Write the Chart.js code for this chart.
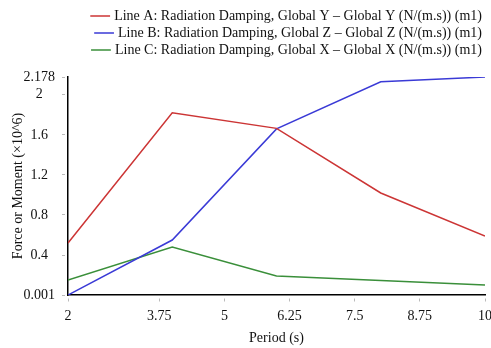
<!DOCTYPE html>
<html>
<head>
<meta charset="utf-8">
<script src="https://cdn.jsdelivr.net/npm/chart.js@4/dist/chart.umd.min.js"></script>
<style>
  html, body { margin: 0; padding: 0; background: #fff; }
  #wrap { width: 491px; height: 348px; }
</style>
</head>
<body>
<div id="wrap"><canvas id="chart" width="491" height="348"></canvas></div>
<script>
// values
const periods = [2, 4, 6, 8, 10];
const lineA = [0.52, 1.82, 1.665, 1.02, 0.59];
const lineB = [0.001, 0.55, 1.66, 2.13, 2.178];
const lineC = [0.15, 0.48, 0.19, 0.145, 0.10];

const seriesNames = [
    'Line A: Radiation Damping, Global Y \u2013 Global Y (N/(m.s)) (m1)',
    'Line B: Radiation Damping, Global Z \u2013 Global Z (N/(m.s)) (m1)',
    'Line C: Radiation Damping, Global X \u2013 Global X (N/(m.s)) (m1)'
];
const seriesColors = ['#cc3535', '#3a3ad6', '#3a8f3a'];

const xTicks = [2, 3.75, 5, 6.25, 7.5, 8.75, 10];
const xTickLabels = ['2', '3.75', '5', '6.25', '7.5', '8.75', '10'];
const yTicks = [0.001, 0.4, 0.8, 1.2, 1.6, 2, 2.178];
const yTickLabels = ['0.001', '0.4', '0.8', '1.2', '1.6', '2', '2.178'];

const serif = '"Liberation Serif", "DejaVu Serif", serif';

function toPoints(values) {
    return periods.map((p, i) => ({x: p, y: values[i]}));
}

const datasets = [lineA, lineB, lineC].map((vals, i) => ({
    label: seriesNames[i],
    data: toPoints(vals),
    borderColor: seriesColors[i],
    backgroundColor: seriesColors[i],
    borderWidth: 1.5,
    pointRadius: 0,
    tension: 0,
    fill: false
}));

// leave extra room under the legend
const legendGap = {
    id: 'legendGap',
    beforeInit(chart) {
        const fit = chart.legend.fit;
        chart.legend.fit = function () {
            fit.bind(chart.legend)();
            this.height += 10;
        };
    }
};

new Chart(document.getElementById('chart').getContext('2d'), {
    type: 'line',
    data: {datasets: datasets},
    plugins: [legendGap],
    options: {
        responsive: false,
        animation: false,
        layout: {padding: {left: 10, right: 6, top: 6, bottom: 1}},
        plugins: {
            legend: {
                position: 'top',
                align: 'end',
                labels: {
                    font: {family: serif, size: 14},
                    color: '#111',
                    usePointStyle: true,
                    pointStyle: 'line',
                    boxWidth: 16,
                    boxHeight: 14,
                    padding: 3
                }
            },
            tooltip: {enabled: false}
        },
        scales: {
            x: {
                type: 'linear',
                min: 2,
                max: 10,
                afterBuildTicks: (axis) => { axis.ticks = xTicks.map(v => ({value: v})); },
                afterFit: (axis) => { axis.height = 52; axis.paddingLeft = 0; axis.paddingRight = 0; },
                ticks: {
                    autoSkip: false,
                    maxRotation: 0,
                    font: {family: serif, size: 14},
                    color: '#111',
                    padding: 6,
                    callback: (v) => xTickLabels[xTicks.indexOf(v)]
                },
                grid: {drawOnChartArea: false, drawTicks: true, tickLength: 7, color: '#bbb', tickBorderDash: [3, 3], tickBorderDashOffset: 3},
                border: {color: '#000', width: 1.5},
                title: {display: true, text: 'Period (s)', font: {family: serif, size: 14}, color: '#111', padding: {top: 0, bottom: 0}}
            },
            y: {
                type: 'linear',
                min: 0.001,
                max: 2.178,
                afterBuildTicks: (axis) => { axis.ticks = yTicks.map(v => ({value: v})); },
                afterFit: (axis) => { axis.width = 58; },
                ticks: {
                    autoSkip: false,
                    crossAlign: 'center',
                    font: {family: serif, size: 14},
                    color: '#111',
                    padding: 7,
                    callback: (v) => yTickLabels[yTicks.indexOf(v)]
                },
                grid: {drawOnChartArea: false, drawTicks: true, tickLength: 6, color: '#bbb', tickBorderDash: [3, 3]},
                border: {color: '#000', width: 1.5},
                title: {display: true, text: 'Force or Moment (\u00d710^6)', font: {family: serif, size: 14}, color: '#111', padding: {top: 0, bottom: 0}}
            }
        }
    }
});
</script>
</body>
</html>
